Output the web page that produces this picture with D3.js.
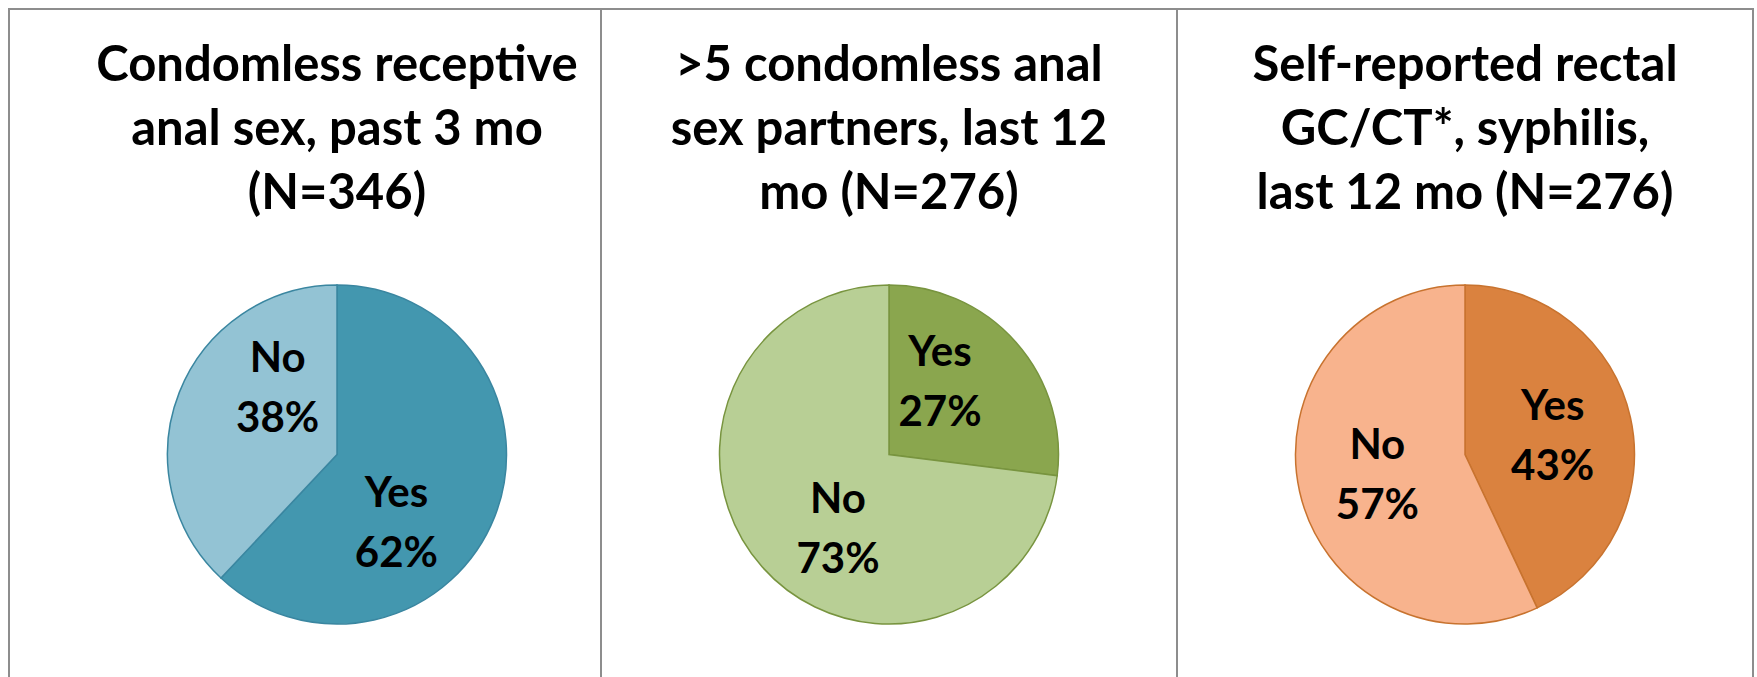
<!DOCTYPE html>
<html>
<head>
<meta charset="utf-8">
<script src="https://cdn.jsdelivr.net/npm/d3@7"></script>
<style>
  html, body { margin: 0; padding: 0; background: #ffffff; }
  svg { display: block; }
  text { font-family: Lato, "Open Sans", sans-serif; font-weight: bold; fill: #000; }
</style>
</head>
<body>
<div id="chart"></div>
<script>
// Chart data
const titles = [
  ['Condomless receptive', 'anal sex, past 3 mo', '(N=346)'],
  ['>5 condomless anal', 'sex partners, last 12', 'mo (N=276)'],
  ['Self-reported rectal', 'GC/CT*, syphilis,', 'last 12 mo (N=276)']
];
const categories = ['Yes', 'No'];
const yesValues = [62, 27, 43];
const noValues = [38, 73, 57];

// Colours per pie: [Yes, No, outline]
const yesColors = ['#4397af', '#8aa64e', '#da823f'];
const noColors = ['#93c3d4', '#b8cf95', '#f8b38d'];
const edgeColors = ['#3a86a0', '#78943f', '#c8732f'];

const width = 1757;
const height = 677;

// Layout
const panelEdges = [9, 601, 1177, 1753];
const pieCenters = [337, 889, 1465];
const pieCy = 454.5;
const radius = 169.5;
// Excel "best fit" nudges the labels round the pie a little (degrees)
const labelTurn = [27, -14, 0];

const svg = d3.select('#chart')
  .append('svg')
  .attr('width', width)
  .attr('height', height);

// Panel frame lines
svg.append('line')
  .attr('x1', panelEdges[0]).attr('x2', panelEdges[3])
  .attr('y1', 9).attr('y2', 9)
  .attr('stroke', '#8d8d8d').attr('stroke-width', 2);

panelEdges.forEach(function (x) {
  svg.append('line')
    .attr('x1', x).attr('x2', x)
    .attr('y1', 8).attr('y2', height)
    .attr('stroke', '#8d8d8d').attr('stroke-width', 2);
});

const pie = d3.pie().sort(null).value(d => d.value);
const arc = d3.arc().innerRadius(0).outerRadius(radius);
const labelArc = d3.arc().innerRadius(radius * 0.53).outerRadius(radius * 0.53);

titles.forEach(function (lines, i) {
  const g = svg.append('g');

  // Title
  const title = g.append('text')
    .attr('text-anchor', 'middle')
    .attr('font-size', 49);
  lines.forEach(function (line, j) {
    title.append('tspan')
      .attr('x', pieCenters[i])
      .attr('y', 81 + j * 64)
      .text(line);
  });

  const data = [
    { name: categories[0], value: yesValues[i], color: yesColors[i] },
    { name: categories[1], value: noValues[i], color: noColors[i] }
  ];

  const pg = g.append('g')
    .attr('transform', 'translate(' + pieCenters[i] + ',' + pieCy + ')');

  pg.selectAll('path')
    .data(pie(data))
    .join('path')
    .attr('d', arc)
    .attr('fill', d => d.data.color)
    .attr('stroke', edgeColors[i])
    .attr('stroke-width', 1.5);

  const turn = labelTurn[i] * Math.PI / 180;
  const labels = pg.selectAll('text.lbl')
    .data(pie(data))
    .join('text')
    .attr('class', 'lbl')
    .attr('text-anchor', 'middle')
    .attr('font-size', 42)
    .attr('transform', function (d) {
      const c = labelArc.centroid({
        startAngle: d.startAngle + turn,
        endAngle: d.endAngle + turn
      });
      return 'translate(' + c + ')';
    });

  labels.append('tspan')
    .attr('x', 0)
    .attr('y', -15)
    .text(d => d.data.name);
  labels.append('tspan')
    .attr('x', 0)
    .attr('y', 45)
    .text(d => d.data.value + '%');
});
</script>
</body>
</html>
